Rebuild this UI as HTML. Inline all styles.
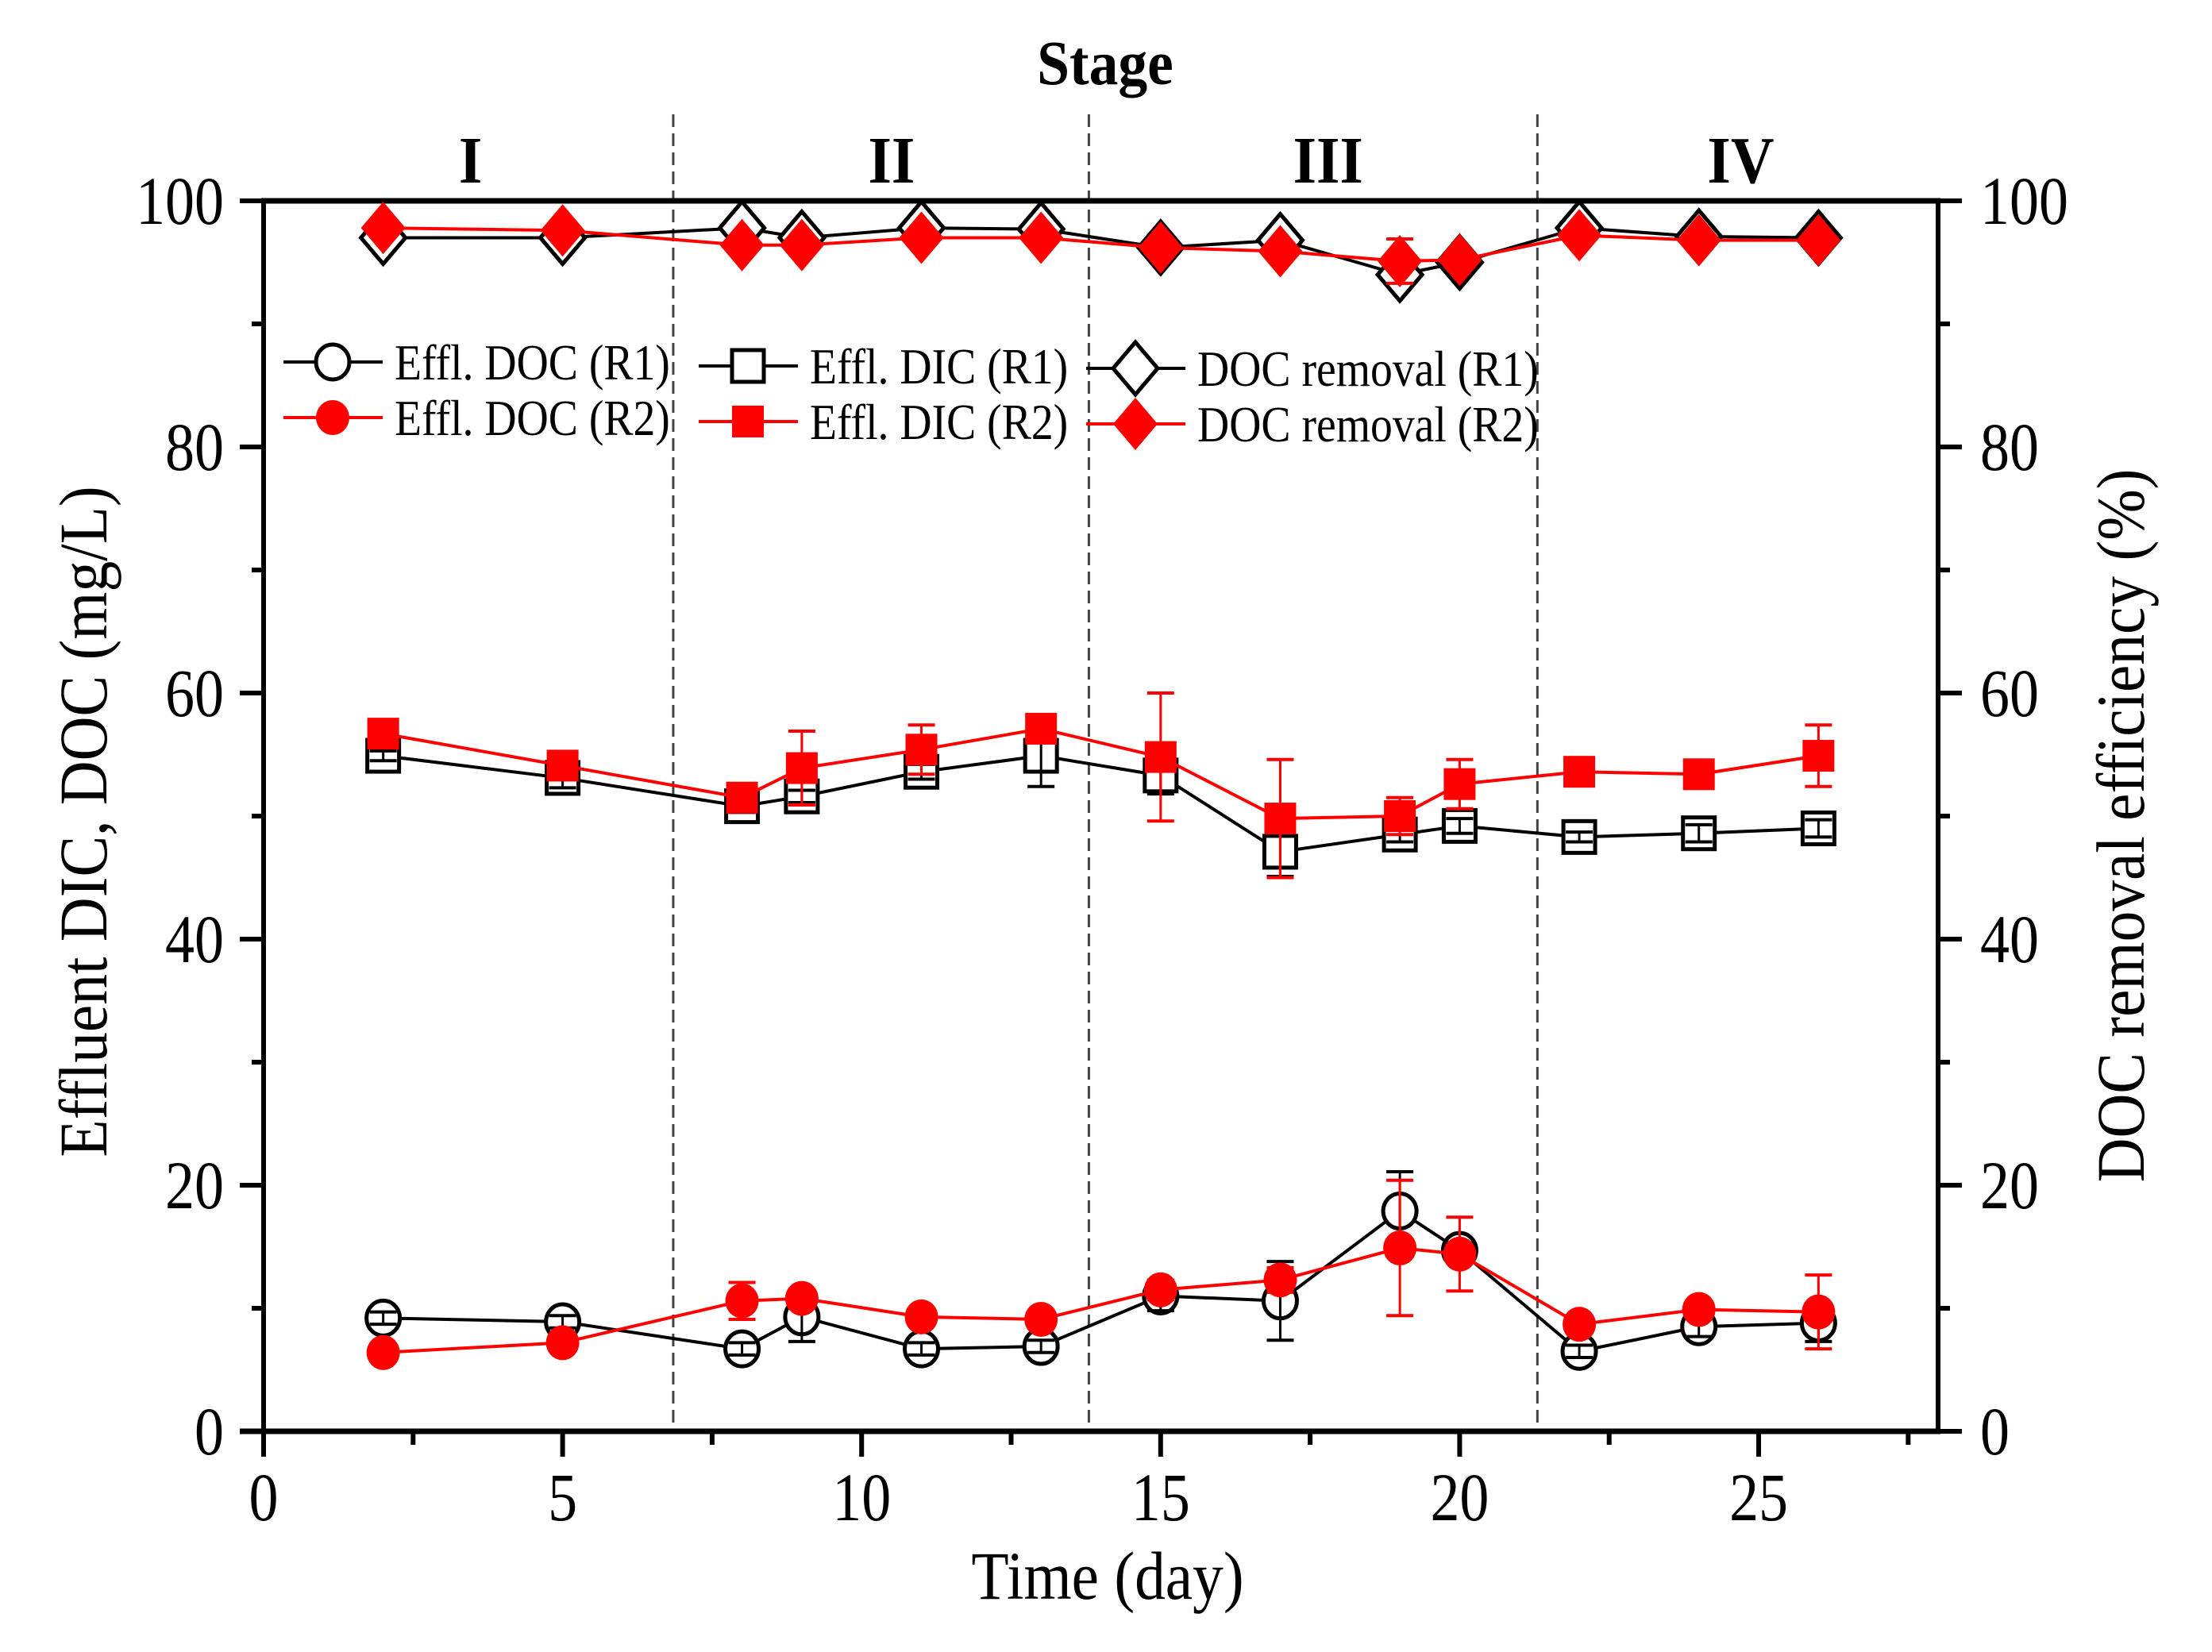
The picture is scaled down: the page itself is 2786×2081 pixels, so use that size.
<!DOCTYPE html>
<html><head><meta charset="utf-8"><style>
html,body{margin:0;padding:0;background:#fff}
svg{display:block}
text{font-family:"Liberation Serif",serif;fill:#000}
</style></head><body>
<svg id="chart" width="2786" height="2081" viewBox="0 0 2786 2081" xmlns="http://www.w3.org/2000/svg">
<g id="grid"></g>
<g id="marks"></g>
<g id="legend"></g>
</svg>
<script>
const days = [2,5,8,9,11,13,15,17,19,20,22,24,26];
const docR1 = [9.2,8.9,6.7,9.3,6.7,6.9,11.0,10.6,17.9,14.7,6.5,8.5,8.8];
const docR1Err = [0.5,0.5,0.5,2.0,0.5,0.5,1.2,3.2,3.2,0.6,0.5,0.8,1.5];
const docR2 = [6.4,7.2,10.6,10.8,9.3,9.1,11.5,12.3,14.9,14.4,8.7,9.9,9.7];
const docR2Err = [0.3,0.3,1.5,0.5,0.5,0.4,0.8,1.0,5.5,3.0,0.4,0.5,3.0];
const dicR1 = [54.9,53.1,50.8,51.6,53.6,54.9,53.3,47.1,48.5,49.2,48.3,48.6,49.0];
const dicR1Err = [0.4,0.8,0.5,0.5,0.6,2.5,1.5,2.0,0.6,0.6,0.4,0.7,0.7];
const dicR2 = [56.7,54.1,51.5,53.9,55.4,57.1,54.8,49.8,50.0,52.6,53.6,53.4,54.9];
const dicR2Err = [0.4,0.5,0.5,3.0,2.0,0.8,5.2,4.8,1.5,2.0,0.4,0.4,2.5];
const remR1 = [97.0,97.0,97.8,97.0,97.8,97.7,96.2,96.8,94.0,95.0,97.8,97.1,97.0];
const remR2 = [97.8,97.6,96.4,96.4,97.0,97.0,96.2,95.9,95.1,95.2,97.2,96.8,96.8];
const remR2Err = [0,0,0,0,0,0,0,0,1.8,0,0,0,0];
const xTicks = [0,5,10,15,20,25];
const yTicks = [0,20,40,60,80,100];
const stageBounds = [6.85,13.8,21.3];
const stageLabels = ["I","II","III","IV"];
const stageCenters = [3.46,10.5,17.8,24.7];

const NS="http://www.w3.org/2000/svg";
const X0=332,X1=2441,Y0=1803,Y1=253;
const sx=v=>X0+(v-0)/(28-0)*(X1-X0);
const sy=v=>Y0-(v-0)/(100-0)*(Y0-Y1);
function el(tag,attrs,parent){const e=document.createElementNS(NS,tag);for(const k in attrs)e.setAttribute(k,attrs[k]);parent.appendChild(e);return e;}
function txt(s,x,y,size,anchor,parent,opts){opts=opts||{};
 const a={x:0,y:0,'text-anchor':anchor,'font-size':size,transform:`translate(${x},${y})${opts.rot?' rotate(-90)':''} scale(${opts.sx||0.86},1)`};
 if(opts.bold)a['font-weight']='bold';
 const t=el('text',a,parent);t.textContent=s;return t;}
const G=document.getElementById('grid'),M=document.getElementById('marks'),L=document.getElementById('legend');

stageBounds.forEach(b=>{const l=el('line',{x1:sx(b),x2:sx(b),y1:144,y2:Y0,stroke:'#444','stroke-width':3,'stroke-dasharray':'16,8'},G);

});
stageLabels.forEach((s,i)=>{const t=txt(s,sx(stageCenters[i]),230,84,'middle',G,{bold:true,sx:0.9});

});
let st=txt('Stage',1392,106,80,'middle',G,{bold:true,sx:0.92});



el('line',{x1:X0-3,x2:X1+3,y1:Y1,y2:Y1,stroke:'#000','stroke-width':7},G);
el('line',{x1:X0-30,x2:X1+3,y1:Y0,y2:Y0,stroke:'#000','stroke-width':7},G);
el('line',{x1:X0,x2:X0,y1:Y1,y2:Y0,stroke:'#000','stroke-width':6},G);
el('line',{x1:X1,x2:X1,y1:Y1,y2:Y0,stroke:'#000','stroke-width':6},G);
for(let v=0;v<=27.5;v+=2.5){const maj=v%5===0;el('line',{x1:sx(v),x2:sx(v),y1:Y0,y2:Y0+(maj?32:17),stroke:'#000','stroke-width':6},G);}
xTicks.forEach(v=>{const t=txt(String(v),sx(v),1915,86,'middle',G);

});
for(let v=0;v<=100;v+=10){const maj=v%20===0;
el('line',{x1:X0-(maj?30:15),x2:X0,y1:sy(v),y2:sy(v),stroke:'#000','stroke-width':6},G);
el('line',{x1:X1,x2:X1+(maj?30:15),y1:sy(v),y2:sy(v),stroke:'#000','stroke-width':6},G);}
yTicks.forEach(v=>{let t=txt(String(v),282,sy(v)+29,86,'end',G);


t=txt(String(v),2494,sy(v)+29,86,'start',G);

});
let t1=txt('Time (day)',1395,2014,86,'middle',G,{sx:0.9});

let t2=txt('Effluent DIC, DOC (mg/L)',134,1035,86,'middle',G,{rot:true,sx:0.9});

let t3=txt('DOC removal efficiency (%)',2700,1040,86,'middle',G,{rot:true,sx:0.9});


function marker(shape,cx,cy,color,filled,parent){
 const f=filled?color:'#fff',sw=5;let m;
 if(shape==='circle')m=el('ellipse',{cx,cy,rx:21,ry:22,fill:f,stroke:color,'stroke-width':filled?0:sw},parent);
 else if(shape==='square')m=el('rect',{x:cx-20,y:cy-20,width:40,height:40,fill:f,stroke:color,'stroke-width':filled?0:sw},parent);
 else m=el('polygon',{points:`${cx},${cy-33} ${cx+28},${cy} ${cx},${cy+33} ${cx-28},${cy}`,fill:f,stroke:color,'stroke-width':filled?0:sw},parent);
 return m;
}
function series(name,vals,errs,color,shape,filled){
 const g=el('g',{},M);
 el('polyline',{points:days.map((d,i)=>sx(d)+','+sy(vals[i])).join(' '),fill:'none',stroke:color,'stroke-width':4},g);
 days.forEach((d,i)=>{const e=errs?errs[i]:0;
  const m=marker(shape,sx(d),sy(vals[i]),color,filled,g);
  
  
  if(e>0){const x=sx(d);el('line',{x1:x,x2:x,y1:sy(vals[i]-e),y2:sy(vals[i]+e),stroke:color,'stroke-width':3},g);
   [vals[i]-e,vals[i]+e].forEach(v=>el('line',{x1:x-17,x2:x+17,y1:sy(v),y2:sy(v),stroke:color,'stroke-width':4},g));}
 });
}
series('doc-removal-r1',remR1,null,'#000','diamond',false);
series('doc-removal-r2',remR2,remR2Err,'#f00','diamond',true);
series('effl-dic-r1',dicR1,dicR1Err,'#000','square',false);
series('effl-dic-r2',dicR2,dicR2Err,'#f00','square',true);
series('effl-doc-r1',docR1,docR1Err,'#000','circle',false);
series('effl-doc-r2',docR2,docR2Err,'#f00','circle',true);

const legItems=[
 ['Effl. DOC (R1)',357,456,'#000','circle',false],['Effl. DOC (R2)',357,526,'#f00','circle',true],
 ['Effl. DIC (R1)',880,461,'#000','square',false],['Effl. DIC (R2)',880,531,'#f00','square',true],
 ['DOC removal (R1)',1368,464,'#000','diamond',false],['DOC removal (R2)',1368,534,'#f00','diamond',true]];
legItems.forEach(([lab,x,y,c,s,f])=>{const g=el('g',{},L);
 
 el('line',{x1:x,x2:x+125,y1:y,y2:y,stroke:c,'stroke-width':4},g);
 marker(s,x+62,y,c,f,g);
 txt(lab,x+140,y+22,64,'start',g,{sx:0.87});});
</script>
</body></html>
